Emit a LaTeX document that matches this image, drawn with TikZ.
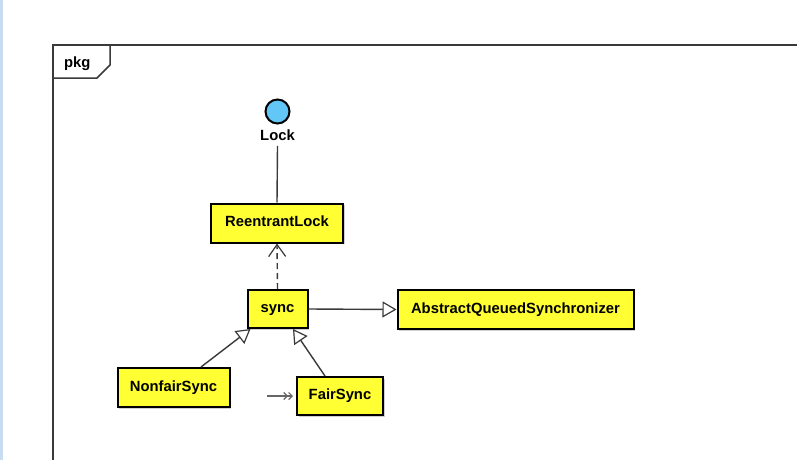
\documentclass[tikz,border=0pt]{standalone}
\usepackage{fontspec}
\setmainfont{Liberation Sans}
\usetikzlibrary{arrows.meta,calc,shadows}
\definecolor{clsfill}{HTML}{FFFF33}
\definecolor{ifcfill}{HTML}{62C6F7}
\definecolor{framecol}{HTML}{3A3A3A}
\definecolor{edgecol}{HTML}{3A3A3A}
\definecolor{stripcol}{HTML}{C8DDF2}
\tikzset{
  cls/.style={draw=black, line width=2pt, fill=clsfill, inner sep=0pt,
    font=\bfseries\fontsize{14.8}{16}\selectfont, text height=10.5pt, text depth=3pt,
    drop shadow={shadow xshift=1.5pt, shadow yshift=-1.5pt, opacity=0.35, fill=gray}},
  ifc/.style={circle, draw=black, line width=2pt, fill=ifcfill, minimum size=24pt, inner sep=0pt},
  lbl/.style={font=\bfseries\fontsize{14.8}{16}\selectfont, inner sep=0pt, text height=10.5pt, text depth=3pt},
  edge/.style={draw=edgecol, line width=1.4pt},
  gen/.style={edge, -{Triangle[open, length=14pt, width=16pt, fill=white, line width=1.2pt]}},
  dep/.style={edge, dash pattern=on 6pt off 4pt, -{Straight Barb[length=12pt, width=17pt, line width=1.2pt]}},
  frameline/.style={draw=framecol, line width=1.5pt},
  markarrow/.style={draw=gray!80!black, line width=1.5pt, -{Straight Barb[length=3.5pt, width=7pt, line width=1.2pt] Straight Barb[length=3.5pt, width=7pt, line width=1.2pt]}}
}
\begin{document}
\begin{tikzpicture}[x=1pt, y=-1pt]
\useasboundingbox (0,0) rectangle (797,460);
\fill[white] (0,0) rectangle (797,460);
\fill[stripcol] (0,0) rectangle (2.5,460);
% package frame
\draw[frameline] (53,462) -- (53,45) -- (800,45);
\draw[frameline] (53,78) -- (97,78) -- (110,65) -- (110,45);
\node[lbl, anchor=west] (pkg) at (64,64) {pkg};
% interface
\node[ifc] (lock) at (277.5,111.5) {};
\node[lbl] (locklbl) at (277.5,137) {Lock};
% classes
\node[cls, minimum width=132pt, minimum height=39pt] (rl) at (277,223) {ReentrantLock};
\node[cls, minimum width=60pt, minimum height=38pt] (sync) at (277.5,309) {sync};
\node[cls, minimum width=236pt, minimum height=39pt] (aqs) at (515.5,309.5) {AbstractQueuedSynchronizer};
\node[cls, minimum width=112pt, minimum height=39pt] (nonfair) at (173.5,387.5) {NonfairSync};
\node[cls, minimum width=86pt, minimum height=38pt] (fair) at (340,396) {FairSync};
% connectors
\draw[edge] (locklbl.south) ++(0,2) -- (rl.north);
\draw[dep] (sync.north) -- (rl.south);
\draw[gen] (sync.east) -- (aqs.west);
\draw[gen] ([xshift=27.5pt]nonfair.north) -- ([xshift=-27pt]sync.south);
\draw[gen] ([xshift=-15pt]fair.north) -- ([xshift=15.5pt]sync.south);
\coordinate (mk) at (267,396);
\draw[markarrow] (mk) -- ([xshift=-3pt]fair.west);
\end{tikzpicture}
\end{document}
